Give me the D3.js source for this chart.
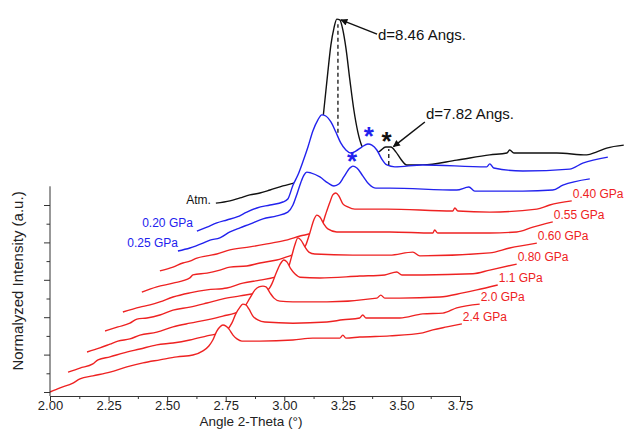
<!DOCTYPE html>
<html><head><meta charset="utf-8">
<script src="https://cdn.jsdelivr.net/npm/d3@7"></script>
<style>
body{margin:0;background:#fff;}
svg{display:block;font-family:"Liberation Sans",Arial,Helvetica,sans-serif;}
</style>
</head><body>
<svg id="chart" width="624" height="429"></svg>
<script>
// ---------------- data ----------------
const xTickValues = [2.00, 2.25, 2.50, 2.75, 3.00, 3.25, 3.50, 3.75];
const xMinorTicks = [2.125, 2.375, 2.625, 2.875, 3.125, 3.375, 3.625];
const yTickValues = [0, 1, 2, 3, 4, 5];
const yMinorTicks = [0.5, 1.5, 2.5, 3.5, 4.5];

// series names, front (bottom) to back (top)
const seriesNames = ["2.4 GPa", "2.0 GPa", "1.1 GPa", "0.80 GPa", "0.60 GPa", "0.55 GPa", "0.40 GPa", "0.25 GPa", "0.20 GPa", "Atm."];

// stacked (waterfall) patterns: [2-theta as plotted, normalized intensity as plotted]
const s24 = [[2.000,0.00],[2.043,0.11],[2.098,0.24],[2.128,0.35],[2.183,0.43],[2.256,0.53],[2.328,0.67],[2.397,0.78],[2.469,0.86],[2.542,0.94],[2.610,0.99],[2.653,1.10],[2.678,1.23],[2.695,1.39],[2.712,1.63],[2.725,1.74],[2.738,1.79],[2.751,1.76],[2.764,1.68],[2.781,1.52],[2.798,1.42],[2.819,1.36],[2.896,1.36],[3.037,1.39],[3.122,1.44],[3.237,1.44],[3.250,1.52],[3.263,1.44],[3.322,1.47],[3.450,1.50],[3.591,1.58],[3.634,1.66],[3.694,1.74],[3.758,1.82]];
const s20 = [[2.077,0.53],[2.128,0.64],[2.183,0.75],[2.205,0.86],[2.256,0.94],[2.311,1.04],[2.384,1.15],[2.456,1.26],[2.525,1.31],[2.597,1.39],[2.670,1.50],[2.738,1.60],[2.759,1.68],[2.776,1.84],[2.793,2.09],[2.811,2.27],[2.823,2.35],[2.836,2.33],[2.849,2.22],[2.866,2.03],[2.887,1.93],[2.917,1.87],[3.037,1.84],[3.182,1.87],[3.250,1.93],[3.322,1.98],[3.335,2.06],[3.348,1.98],[3.493,1.98],[3.591,2.09],[3.677,2.11],[3.736,2.25],[3.834,2.35]];
const s11 = [[2.158,1.07],[2.213,1.18],[2.256,1.28],[2.290,1.36],[2.341,1.42],[2.384,1.52],[2.456,1.60],[2.525,1.74],[2.597,1.84],[2.670,1.93],[2.738,2.03],[2.811,2.17],[2.836,2.33],[2.853,2.51],[2.875,2.73],[2.892,2.81],[2.909,2.83],[2.922,2.81],[2.939,2.65],[2.956,2.51],[2.981,2.43],[3.037,2.41],[3.182,2.41],[3.395,2.51],[3.412,2.59],[3.429,2.51],[3.493,2.51],[3.664,2.54],[3.762,2.65],[3.822,2.73],[3.911,2.86]];
const s080 = [[2.235,1.63],[2.290,1.74],[2.341,1.84],[2.371,1.95],[2.414,1.98],[2.469,2.06],[2.525,2.19],[2.597,2.27],[2.670,2.38],[2.738,2.49],[2.811,2.57],[2.883,2.65],[2.930,2.73],[2.947,2.89],[2.964,3.16],[2.981,3.40],[2.998,3.53],[3.011,3.48],[3.028,3.29],[3.045,3.16],[3.067,3.07],[3.152,3.05],[3.322,3.10],[3.429,3.13],[3.480,3.21],[3.502,3.13],[3.591,3.13],[3.805,3.16],[3.877,3.26],[3.992,3.42]];
const s060 = [[2.311,2.14],[2.384,2.27],[2.427,2.33],[2.469,2.41],[2.525,2.54],[2.597,2.65],[2.670,2.73],[2.755,2.78],[2.823,2.91],[2.896,2.99],[2.960,3.07],[3.003,3.18],[3.020,3.37],[3.032,3.64],[3.045,3.93],[3.058,4.12],[3.071,4.06],[3.088,3.88],[3.105,3.74],[3.130,3.69],[3.293,3.66],[3.450,3.66],[3.549,3.74],[3.578,3.64],[3.877,3.72],[3.962,3.85],[4.078,3.98]];
const s055 = [[2.392,2.67],[2.456,2.81],[2.525,2.91],[2.597,3.05],[2.610,3.13],[2.670,3.18],[2.725,3.26],[2.768,3.34],[2.840,3.37],[2.896,3.45],[2.968,3.53],[3.024,3.64],[3.067,3.74],[3.092,3.93],[3.109,4.25],[3.126,4.60],[3.139,4.73],[3.152,4.68],[3.169,4.49],[3.186,4.36],[3.224,4.28],[3.365,4.28],[3.450,4.28],[3.634,4.25],[3.642,4.33],[3.655,4.25],[3.877,4.25],[3.992,4.28],[4.061,4.41],[4.146,4.55]];
const s040 = [[2.469,3.24],[2.525,3.34],[2.567,3.45],[2.597,3.50],[2.627,3.58],[2.670,3.64],[2.712,3.69],[2.768,3.80],[2.853,3.88],[2.926,3.96],[2.994,4.04],[3.067,4.17],[3.130,4.28],[3.160,4.44],[3.177,4.76],[3.195,5.08],[3.207,5.27],[3.220,5.32],[3.233,5.24],[3.250,5.03],[3.271,4.95],[3.301,4.89],[3.438,4.89],[3.719,4.84],[3.728,4.92],[3.741,4.84],[3.877,4.81],[4.078,4.89],[4.133,5.00],[4.227,5.11]];
const s025 = [[2.546,3.77],[2.597,3.85],[2.653,3.98],[2.683,4.06],[2.725,4.12],[2.768,4.28],[2.811,4.39],[2.853,4.49],[2.909,4.63],[2.968,4.71],[3.015,4.81],[3.037,5.00],[3.054,5.29],[3.071,5.61],[3.084,5.80],[3.096,5.88],[3.113,5.86],[3.152,5.75],[3.186,5.59],[3.212,5.51],[3.233,5.56],[3.254,5.75],[3.280,5.99],[3.293,6.04],[3.310,5.99],[3.335,5.78],[3.361,5.56],[3.391,5.45],[3.450,5.45],[3.736,5.40],[3.788,5.48],[3.813,5.37],[4.018,5.37],[4.146,5.40],[4.189,5.53],[4.304,5.70]];
const s020 = [[2.627,4.30],[2.670,4.41],[2.712,4.52],[2.755,4.60],[2.798,4.68],[2.840,4.81],[2.883,4.92],[2.939,5.00],[2.994,5.08],[3.015,5.16],[3.037,5.53],[3.058,5.80],[3.079,6.15],[3.101,6.55],[3.122,6.98],[3.143,7.27],[3.160,7.41],[3.177,7.38],[3.199,7.22],[3.220,6.95],[3.241,6.66],[3.263,6.47],[3.284,6.39],[3.305,6.44],[3.331,6.55],[3.357,6.63],[3.374,6.60],[3.395,6.47],[3.416,6.23],[3.438,6.07],[3.472,6.02],[3.591,6.07],[3.864,6.02],[3.877,6.10],[3.894,5.99],[4.018,5.91],[4.218,5.96],[4.274,6.12],[4.381,6.28]];
const sAtm = [[2.708,5.05],[2.768,5.11],[2.811,5.19],[2.853,5.27],[2.896,5.32],[2.939,5.40],[2.994,5.51],[3.054,5.61],[3.101,5.72],[3.130,5.94],[3.152,6.60],[3.169,7.54],[3.186,8.56],[3.199,9.28],[3.212,9.73],[3.224,9.97],[3.237,9.95],[3.250,9.68],[3.263,9.20],[3.280,8.34],[3.297,7.54],[3.314,6.95],[3.331,6.58],[3.352,6.42],[3.382,6.36],[3.408,6.44],[3.433,6.55],[3.455,6.55],[3.476,6.42],[3.497,6.23],[3.523,6.07],[3.591,6.07],[3.736,6.20],[3.877,6.34],[3.950,6.39],[3.962,6.47],[3.980,6.39],[4.163,6.39],[4.291,6.34],[4.334,6.42],[4.376,6.52],[4.449,6.60]];

const seriesData = [s24, s20, s11, s080, s060, s055, s040, s025, s020, sAtm];
const seriesColors = ["#ee2222","#ee2222","#ee2222","#ee2222","#ee2222","#ee2222","#ee2222","#2222ee","#2222ee","#111111"];

// peak annotations
const peakLines = [[3.229, 6.93, 9.83], [3.446, 6.07, 6.50]];
const arrows = [{from:[3.396, 9.57], to:[3.242, 9.95], text:"d=8.46 Angs.", tx:3.400, ty:9.42},
                {from:[3.600, 7.22], to:[3.466, 6.56], text:"d=7.82 Angs.", tx:3.605, ty:7.30}];
const stars = [{x:3.361, y:7.01, color:"#2222ee"}, {x:3.437, y:6.88, color:"#111111"}, {x:3.289, y:6.34, color:"#2222ee"}];

// ---------------- chart ----------------
const series = seriesNames.map((name, i) => ({
  name, data: seriesData[i], color: seriesColors[i],
  side: i < 7 ? "right" : "left"
}));
const leftLabelShift = {"0.25 GPa": [0, -4], "0.20 GPa": [-4, -4], "Atm.": [-5, 1]};

const svg = d3.select("#chart");
const x = d3.scaleLinear().domain([2, 3.75]).range([50, 460]);
const y = d3.scaleLinear().domain([0, 5.5]).range([392, 186.3]);
const axisY0 = 396;

const line = d3.line().x(d => x(d[0])).y(d => y(d[1])).curve(d3.curveMonotoneX);
const area = d3.area().x(d => x(d[0])).y0(axisY0).y1(d => y(d[1])).curve(d3.curveMonotoneX);

const gCurves = svg.append("g");
// draw back to front, each hides what lies behind it
series.slice().reverse().forEach(s => {
  gCurves.append("path").attr("d", area(s.data)).attr("fill", "#fff").attr("stroke", "none");
  gCurves.append("path").attr("d", line(s.data)).attr("fill", "none")
    .attr("stroke", s.color).attr("stroke-width", 1.4).attr("stroke-linejoin", "round");
});

// dashed peak lines
svg.selectAll(".pk").data(peakLines).enter().append("line")
  .attr("x1", d => x(d[0])).attr("x2", d => x(d[0]))
  .attr("y1", d => y(d[1])).attr("y2", d => y(d[2]))
  .attr("stroke", "#111").attr("stroke-width", 1.3).attr("stroke-dasharray", "4,3");

// arrows
const defs = svg.append("defs");
defs.append("marker").attr("id", "ah").attr("viewBox", "0 0 10 10").attr("refX", 9).attr("refY", 5)
  .attr("markerWidth", 9).attr("markerHeight", 7).attr("markerUnits", "userSpaceOnUse").attr("orient", "auto")
  .append("path").attr("d", "M0,0L10,5L0,10z").attr("fill", "#111");
arrows.forEach(a => {
  svg.append("line").attr("x1", x(a.from[0])).attr("y1", y(a.from[1]))
    .attr("x2", x(a.to[0])).attr("y2", y(a.to[1]))
    .attr("stroke", "#111").attr("stroke-width", 1.5).attr("marker-end", "url(#ah)");
  svg.append("text").attr("x", x(a.tx)).attr("y", y(a.ty)).attr("font-size", 15).attr("fill", "#111").text(a.text);
});

// stars
stars.forEach(s => {
  svg.append("text").attr("x", x(s.x)).attr("y", y(s.y) + 15).attr("text-anchor", "middle")
    .attr("font-size", 26).attr("font-weight", "bold").attr("fill", s.color).text("*");
});

// series labels
series.forEach(s => {
  if (s.side === "right") {
    const e = s.data[s.data.length - 1];
    svg.append("text").attr("x", x(e[0]) + 1).attr("y", y(e[1]) - 3).attr("font-size", 12)
      .attr("fill", s.color).text(s.name);
  } else {
    const b = s.data[0], sh = leftLabelShift[s.name];
    svg.append("text").attr("x", x(b[0]) + sh[0]).attr("y", y(b[1]) + sh[1]).attr("text-anchor", "end")
      .attr("font-size", 12).attr("fill", s.color).text(s.name);
  }
});

// axes
const axisColor = "#333";
const gx = svg.append("g").attr("transform", `translate(0,${axisY0})`);
gx.call(d3.axisBottom(x).tickValues(xTickValues).tickFormat(d3.format(".2f")).tickSize(5).tickSizeOuter(0).tickPadding(0));
const gxm = svg.append("g").attr("transform", `translate(0,${axisY0})`);
gxm.call(d3.axisBottom(x).tickValues(xMinorTicks).tickFormat("").tickSize(3));
gxm.select(".domain").remove();
gx.selectAll("text").attr("font-size", 13).attr("fill", "#222").attr("font-family", "Liberation Sans, Arial, sans-serif");

const gy = svg.append("g").attr("transform", `translate(50,0)`);
gy.call(d3.axisLeft(y).tickValues(yTickValues).tickFormat("").tickSize(6));
gy.select(".domain").remove();
const gym = svg.append("g").attr("transform", `translate(50,0)`);
gym.call(d3.axisLeft(y).tickValues(yMinorTicks).tickFormat("").tickSize(3.5));
gym.select(".domain").remove();
svg.append("line").attr("x1", 50).attr("x2", 50).attr("y1", axisY0).attr("y2", y(5.5)).attr("stroke", axisColor);

svg.selectAll(".domain, .tick line").attr("stroke", axisColor);

// titles
svg.append("text").attr("x", 251).attr("y", 425.5).attr("text-anchor", "middle").attr("font-size", 13.5)
  .attr("fill", "#222").text("Angle 2-Theta (°)");
svg.append("text").attr("transform", "translate(23,281) rotate(-90)").attr("text-anchor", "middle")
  .attr("font-size", 15).attr("fill", "#222").text("Normalyzed Intensity (a.u.)");
</script>
</body></html>
